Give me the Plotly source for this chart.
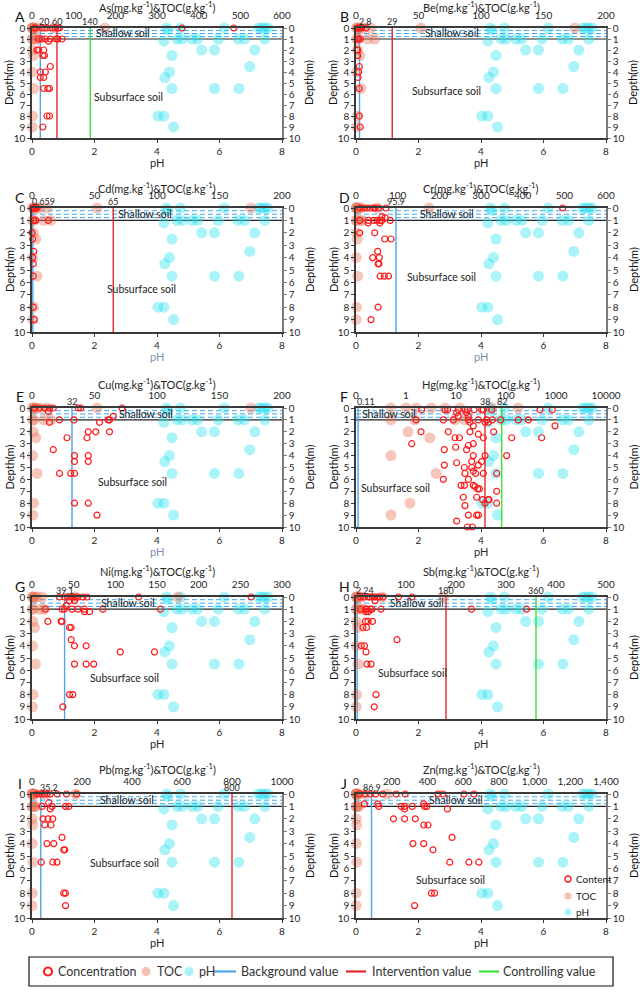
import math
import plotly.graph_objects as go

W, H = 640, 992
FONT = "Lato, 'Open Sans', Arial, sans-serif"

# ---------------- data ----------------
DEPTH_RANGE = [0, 10]
PH_TICKS = [0, 2, 4, 6, 8]
DEPTH_TICKS = list(range(0, 11))

# pH (bottom axis) – same soil profile samples in every panel
ph_depth = [0, 0, 0, 0, 0, 0, 0, 0.2,
            1.2, 1, 1, 1, 1, 1, 1, 1, 1,
            2, 2, 2, 2.5, 3.5, 4, 4.5, 5.5, 5.5, 5.5, 8, 8, 9]
ph_value = [4.3, 4.75, 6.15, 7.25, 7.35, 7.45, 7.55, 4.35,
            4.22, 4.64, 4.8, 5.12, 5.3, 5.96, 6.6, 6.8, 7.45,
            5.43, 5.84, 7.13, 4.48, 6.97, 4.4, 4.25, 4.48, 5.84, 6.62, 4.03, 4.22, 4.53]

# TOC (g/kg, top axis)
toc_depth = [0, 0, 0, 0, 0, 0, 0, 0, 1, 1, 1, 1, 2, 2.5, 4, 5.5, 8, 9]
toc_value = [0.5, 1.0, 1.6, 3.2, 6, 12, 52, 175, 0.5, 1.5, 9.5, 15, 1.1, 3.0, 0.5, 4.0, 1.2, 0.5]

# element concentrations (mg/kg, top axis)
as_depth = [0, 0, 0, 0, 0, 0, 0, 0, 0, 0, 0, 1, 1, 1, 1, 1, 1, 1, 1.2,
            2, 2, 2, 2.5, 2.5, 3.5, 4, 4, 4.5, 4.5, 5.5, 5.5, 5.5, 8, 8, 9]
as_value = [5, 10, 24, 30, 36, 48, 56, 62, 66, 360, 484, 16, 24, 32, 44, 58, 62, 72, 40,
            12, 16, 28, 26, 30, 44, 20, 32, 20, 28, 28, 38, 42, 36, 42, 26]

be_depth = [0, 0, 0, 0, 0, 1, 1, 1, 2, 2, 2.5, 3.5, 4, 4.5, 5.5, 8, 9]
be_value = [1, 2, 3, 4.5, 8.2, 1, 2, 3.5, 0.8, 1.3, 1.3, 2.6, 2.1, 1.6, 2.6, 2.6, 3.4]

cd_depth = [0, 0, 0, 0, 0, 1, 1, 1, 2, 2.5, 3.5, 4, 4.5, 5.5, 8, 9]
cd_value = [0.5, 1, 2, 3, 4, 1.5, 3, 13, 0.1, 0.5, 1.3, 0.5, 1, 1, 1, 1.8]

cr_depth = [0, 0, 0, 0, 0, 0, 0, 0, 0, 0.7, 0.8, 1, 1, 1, 1, 1, 1, 1, 1.2, 1.2,
            2, 2, 2.5, 2.5, 3.5, 4, 4, 4.5, 4.5, 5.5, 5.5, 5.5, 8, 9]
cr_value = [10, 18, 26, 34, 42, 46, 54, 72, 496, 62, 70, 9, 30, 42, 50, 58, 62, 82, 29, 57,
            9, 45, 69, 84, 52, 40, 56, 53, 55, 58, 68, 78, 53, 36]

cu_depth = [0, 0, 0, 0, 0, 0, 0, 0, 0.3, 0.7, 1, 1, 1, 1, 1.2, 1.2,
            2, 2, 2, 2.5, 2.5, 3.5, 4, 4, 4.5, 4.5, 5.5, 5.5, 5.5, 8, 8, 9]
cu_value = [2, 6, 10, 14, 17, 37, 39, 72, 13, 65, 22, 33.5, 61, 62, 54, 14,
            45, 51, 62, 28, 44, 17, 34, 45, 34, 45, 22, 31, 34, 34, 45, 52]

hg_depth = [0.15] * 12 + [0.4, 0.4, 0.7, 0.7] + [1.0] * 10 + [1.2, 1.2, 1.2, 1.5, 1.5,
            2, 2, 2, 2, 2.2, 2.5, 2.5, 2.5, 2.5, 2.5, 3.0, 3.0, 3.15, 3.3, 3.5, 3.5,
            4, 4, 4, 4.5, 4.5, 4.6, 4.8, 4.8, 5, 5, 5.3, 5.5, 5.5, 5.5, 5.5, 6, 6,
            6.5, 6.5, 6.5, 6.6, 6.8, 6.8, 7, 7.5, 7.5, 7.7, 7.7, 7.7, 8, 8, 8.2,
            9, 9, 9, 9.5, 10, 10]
hg_value = [2.06, 6.0, 6.8, 11.1, 15.1, 16.9, 22.9, 32.6, 35.2, 51.7, 479, 845,
            10.3, 16.3, 11.1, 17.7,
            1.58, 5.58, 8.85, 17.7, 28, 41, 53.3, 78.2, 176, 280,
            19, 38, 44.3, 22.2, 955,
            2.0, 7.0, 19, 56.6, 28, 9.55, 11.7, 35.2, 130, 517, 1.3, 22.2, 17.7, 9.85, 5.84, 16.3,
            22.2, 38, 103, 20.6, 32.6, 10.3, 5.84, 28, 14.7, 20.6, 22.2, 15.1, 24.7, 35.2, 65, 5.58, 17.7,
            12.6, 14.7, 22.2, 24, 27.1, 29.3, 65, 14, 25.9, 34.1, 44.3, 45.7, 38, 65, 15.1,
            17.7, 25.9, 28, 10.3, 16.9, 21.2]

ni_depth = [0] * 11 + [0.3, 0.3, 0.7] + [1] * 8 + [1.2, 1.2, 2, 2, 2, 2.5, 2.5, 3.5,
            4, 4, 4.5, 4.5, 5.5, 5.5, 5.5, 8, 8, 9]
ni_value = [33, 39, 43, 46, 49, 52, 55, 61, 66, 128, 263, 45, 51, 41,
            16, 36, 39, 48, 55, 63, 85, 154, 63, 69, 19, 35, 36, 45, 47, 47,
            51, 65, 106, 147, 51, 65, 74, 45, 49, 37]

sb_depth = [0] * 11 + [0.3] + [1] * 8 + [1.2, 1.2, 2, 2, 2, 2.5, 2.5, 3.5, 4, 4, 4.5,
            5.5, 5.5, 8, 9]
sb_value = [8.6, 15, 25, 28, 33, 37, 42, 47, 54, 85, 112, 38,
            9, 19, 22, 29, 32, 50, 231, 341, 20, 25, 19, 24, 33, 14, 21, 82, 10.6, 17, 20,
            22, 30, 40, 36.5]

pb_depth = [0] * 9 + [0.7, 1, 1, 1, 1, 1.2, 2, 2, 2, 2.5, 2.5, 3.5, 4, 4, 4.5, 4.5,
            5.5, 5.5, 5.5, 8, 8, 9]
pb_value = [20, 30, 40, 50, 60, 73, 100, 138, 178, 67, 40, 80, 134, 147, 73, 44, 64, 83,
            51, 76, 120, 60, 87, 127, 131, 37, 83, 100, 127, 134, 134]

zn_depth = [0] * 11 + [0.8, 0.8, 0.8] + [1] * 6 + [1.2, 1.2, 2, 2, 2, 2.5, 2.5, 3.5,
            4, 4, 4.5, 5.5, 5.5, 5.5, 8, 8, 9]
zn_value = [20, 50, 80, 110, 150, 225, 275, 459, 487, 605, 660, 47, 122, 379,
            127, 253, 272, 315, 384, 397, 272, 512, 210, 272, 332, 380, 403, 538,
            319, 379, 431, 525, 632, 688, 422, 440, 328]

elements = ["As", "Be", "Cd", "Cr", "Cu", "Hg", "Ni", "Sb", "Pb", "Zn"]
letters = ["A", "B", "C", "D", "E", "F", "G", "H", "I", "J"]
top_max = [600, 200, 200, 600, 200, None, 300, 500, 1000, 1400]
top_step = [100, 50, 50, 100, 50, None, 50, 100, 200, 200]
background = [20, 2.8, 0.659, 95.9, 32, 0.11, 39.1, 2.24, 35.2, 86.9]
intervention = [60, 29, 65, None, None, 38, None, 180, 800, None]
controlling = [140, None, None, None, None, 82, None, 360, None, None]
hg_ticks = [0.1, 1, 10, 100, 1000, 10000]
hg_ticktext = ["0", "1", "10", "100", "1000", "10000"]

content_depths = [as_depth, be_depth, cd_depth, cr_depth, cu_depth,
                  hg_depth, ni_depth, sb_depth, pb_depth, zn_depth]
content_values = [as_value, be_value, cd_value, cr_value, cu_value,
                  hg_value, ni_value, sb_value, pb_value, zn_value]

# ---------------- layout / styles ----------------
rows_px = [(28, 138), (208, 332), (408, 527), (597, 719), (794, 918)]
title_px = [6, 188, 383, 570, 768]
cols_px = [(32, 282), (356, 606)]
shallow_pos = [2.9, 3.06, 3.6, 2.9, 3.66, 1.05, 3.06, 1.94, 3.05, 3.2]
sub_pos = [(3.1, 6.3), (2.9, 5.7), (3.5, 6.5), (2.75, 5.6), (3.2, 6.2),
           (1.27, 6.7), (2.96, 6.6), (1.8, 6.25), (2.96, 5.6), (3.02, 6.9)]
ph_title_col = ["#262626", "#262626", "#7a92b0", "#7a92b0", "#7a92b0",
                "#262626", "#262626", "#262626", "#262626", "#262626"]

BLUE = "#4FA6E6"
RED = "#E3262B"
GREEN = "#3BE23B"
TOC_COL = "rgba(236,112,82,0.40)"
PH_COL = "rgba(40,226,240,0.40)"
TOC_SOLID = "#F5C1B2"
PH_SOLID = "#A8F2F8"
CONTENT_COL = "#FF1A1A"
AX = "#3a3a3a"
TICKC = "#262626"


def px_x(p):
    return p / W


def px_y(p):
    return 1 - p / H


def note(**kw):
    base = dict(showarrow=False, xanchor="center", yanchor="middle")
    base.update(kw)
    return base


fig = go.Figure()
shapes = []
annotations = []
layout = {}

for i in range(10):
    r, c = divmod(i, 2)
    top, bot = rows_px[r]
    left, right = cols_px[c]
    nb, nt = 2 * i + 1, 2 * i + 2
    xb = "x" if nb == 1 else f"x{nb}"
    yl = "y" if nb == 1 else f"y{nb}"
    xt, yr = f"x{nt}", f"y{nt}"
    xb_key = "xaxis" if nb == 1 else f"xaxis{nb}"
    yl_key = "yaxis" if nb == 1 else f"yaxis{nb}"
    is_log = top_max[i] is None

    # pH markers (bottom axis)
    fig.add_trace(go.Scatter(
        x=ph_value, y=ph_depth, mode="markers", xaxis=xb, yaxis=yl,
        marker=dict(size=11, color=PH_COL, line=dict(width=0)),
        cliponaxis=False, name="pH", showlegend=False, hoverinfo="skip"))
    # dummy trace so the right depth axis is drawn
    fig.add_trace(go.Scatter(x=[None], y=[None], xaxis=xb, yaxis=yr,
                             showlegend=False, hoverinfo="skip"))
    # guideline values
    for val, col in [(background[i], BLUE), (intervention[i], RED), (controlling[i], GREEN)]:
        if val is None:
            continue
        fig.add_trace(go.Scatter(
            x=[val, val], y=DEPTH_RANGE, mode="lines", xaxis=xt, yaxis=yl,
            line=dict(color=col, width=1.4), showlegend=False, hoverinfo="skip"))
        xpos = math.log10(val) if is_log else val
        frac = (xpos + 1) / 5 if is_log else val / top_max[i]
        annotations.append(note(
            xref=xt, yref="paper", x=xpos, y=px_y(top), yanchor="bottom",
            xanchor="left" if frac < 0.04 else "center",
            xshift=-3 if frac < 0.04 else 0, yshift=-1,
            text=f"{val:g}", font=dict(size=9, color=TICKC)))
    # TOC
    fig.add_trace(go.Scatter(
        x=toc_value, y=toc_depth, mode="markers", xaxis=xt, yaxis=yl,
        marker=dict(size=11, color=TOC_COL, line=dict(width=0)),
        cliponaxis=False, name="TOC", showlegend=False, hoverinfo="skip"))
    # content
    fig.add_trace(go.Scatter(
        x=content_values[i], y=content_depths[i], mode="markers", xaxis=xt, yaxis=yl,
        marker=dict(symbol="circle-open", size=6, color=CONTENT_COL,
                    line=dict(width=1.2, color=CONTENT_COL)),
        cliponaxis=False, name="Content", showlegend=False, hoverinfo="skip"))

    common = dict(showgrid=False, zeroline=False, fixedrange=True, automargin=False,
                  tickfont=dict(size=10, color=TICKC, family=FONT))
    layout[xb_key] = dict(domain=[px_x(left), px_x(right)], anchor=yl, range=[0, 8],
                          tickvals=PH_TICKS, showline=True, linecolor=AX, linewidth=1.5,
                          ticks="outside", ticklen=3, tickcolor=AX, **common)
    top_ax = dict(overlaying=xb, side="top", anchor=yl, showline=True, linecolor=AX,
                  linewidth=1.5, ticks="outside", ticklen=3, tickcolor="rgba(0,0,0,0)", **common)
    if is_log:
        top_ax.update(type="log", range=[-1, 4], tickvals=hg_ticks, ticktext=hg_ticktext)
    else:
        top_ax.update(range=[0, top_max[i]], tick0=0, dtick=top_step[i])
        if top_max[i] > 1000:
            top_ax.update(tickformat=",d")
    layout[f"xaxis{nt}"] = top_ax
    layout[yl_key] = dict(domain=[px_y(bot), px_y(top)], anchor=xb, range=[10, 0],
                          tickvals=DEPTH_TICKS, showline=True, linecolor=AX, linewidth=1.5,
                          ticks="outside", ticklen=3, tickcolor=AX, **common)
    layout[f"yaxis{nt}"] = dict(overlaying=yl, side="right", anchor=xb, range=[10, 0],
                                tickvals=DEPTH_TICKS, showline=True, linecolor="#7a7a7a",
                                linewidth=1.5, ticks="outside", ticklen=3, tickcolor="#7a7a7a",
                                **common)

    # shallow soil band
    dom = f"{xb} domain"
    for d in [0.22, 0.5, 0.78]:
        shapes.append(dict(type="line", xref=dom, yref=yl, x0=0, x1=1, y0=d, y1=d,
                           line=dict(color="#3FA9F5", width=1, dash="5px,3px"), layer="below"))
    shapes.append(dict(type="line", xref=dom, yref=yl, x0=0, x1=1, y0=1, y1=1,
                       line=dict(color="#222222", width=1.2), layer="below"))

    # texts
    annotations.append(note(xref="paper", yref="paper", x=px_x((left + right) / 2),
                            y=px_y(title_px[r]),
                            text=f"{elements[i]}(mg.kg<sup>-1</sup>)&amp;TOC(g.kg<sup>-1</sup>)",
                            font=dict(size=11, color=TICKC)))
    annotations.append(note(xref="paper", yref="paper", x=px_x(left - 12), y=px_y(top - 11),
                            text=letters[i], font=dict(size=14, color="#111111")))
    annotations.append(note(xref="paper", yref="paper", x=px_x(left - 23),
                            y=px_y((top + bot) / 2), textangle=-90,
                            text="Depth(m)", font=dict(size=11, color="#111111")))
    annotations.append(note(xref="paper", yref="paper", x=px_x(right + 27),
                            y=px_y((top + bot) / 2), textangle=-90,
                            text="Depth(m)", font=dict(size=11, color="#111111")))
    annotations.append(note(xref="paper", yref="paper", x=px_x((left + right) / 2),
                            y=px_y(bot + 24), text="pH",
                            font=dict(size=11, color=ph_title_col[i])))
    annotations.append(note(xref=xb, yref=yl, x=shallow_pos[i], y=0.5,
                            text="Shallow soil", font=dict(size=10.5, color="#222222")))
    annotations.append(note(xref=xb, yref=yl, x=sub_pos[i][0], y=sub_pos[i][1],
                            text="Subsurface soil", font=dict(size=10.5, color="#222222")))

# ---------------- small key inside panel J ----------------
key_items = [("ring", CONTENT_COL, 879, "Content"), ("dot", TOC_SOLID, 896, "TOC"),
             ("dot", PH_SOLID, 912, "pH")]
for kind, col, yc, txt in key_items:
    if kind == "ring":
        shapes.append(dict(type="circle", xref="paper", yref="paper",
                           x0=px_x(565), x1=px_x(571), y0=px_y(yc + 3), y1=px_y(yc - 3),
                           line=dict(color=col, width=1.3)))
    else:
        shapes.append(dict(type="circle", xref="paper", yref="paper",
                           x0=px_x(564.5), x1=px_x(571.5), y0=px_y(yc + 3.5), y1=px_y(yc - 3.5),
                           line=dict(width=0), fillcolor=col))
    annotations.append(note(xref="paper", yref="paper", x=px_x(574), y=px_y(yc),
                            xanchor="left", text=txt, font=dict(size=10, color="#222222")))

# ---------------- bottom legend (drawn) ----------------
LEG_TOP, LEG_BOT = 957, 986
LEG_MID = (LEG_TOP + LEG_BOT) / 2
shapes.append(dict(type="rect", xref="paper", yref="paper", x0=px_x(29), x1=px_x(613),
                   y0=px_y(LEG_BOT), y1=px_y(LEG_TOP), line=dict(color="#111111", width=1.2)))
shapes.append(dict(type="circle", xref="paper", yref="paper",
                   x0=px_x(44), x1=px_x(52), y0=px_y(LEG_MID + 4), y1=px_y(LEG_MID - 4),
                   line=dict(color=CONTENT_COL, width=2.2)))
for xc, col in [(146, TOC_SOLID), (189, PH_SOLID)]:
    shapes.append(dict(type="circle", xref="paper", yref="paper",
                       x0=px_x(xc - 4.5), x1=px_x(xc + 4.5), y0=px_y(LEG_MID + 4.5),
                       y1=px_y(LEG_MID - 4.5), line=dict(width=0), fillcolor=col))
for x0, x1, col in [(214, 236, BLUE), (346, 366, RED), (479, 499, GREEN)]:
    shapes.append(dict(type="line", xref="paper", yref="paper", x0=px_x(x0), x1=px_x(x1),
                       y0=px_y(LEG_MID), y1=px_y(LEG_MID), line=dict(color=col, width=2.2)))
legend_texts = [("Concentration", 56), ("TOC", 155), ("pH", 197),
                ("Background value", 239), ("Intervention value", 370), ("Controlling value", 501)]
for txt, xl in legend_texts:
    annotations.append(note(xref="paper", yref="paper", x=px_x(xl), y=px_y(LEG_MID),
                            xanchor="left", text=txt, font=dict(size=12.5, color="#333333")))

fig.update_layout(
    width=W, height=H, margin=dict(l=0, r=0, t=0, b=0, autoexpand=False),
    paper_bgcolor="white", plot_bgcolor="white",
    font=dict(family=FONT, size=10, color=TICKC),
    showlegend=False,
    shapes=shapes, annotations=annotations, **layout)

fig.write_html("out.html", config={"displayModeBar": False},
               post_script="document.body.style.margin='0px';document.body.style.padding='0px';")
